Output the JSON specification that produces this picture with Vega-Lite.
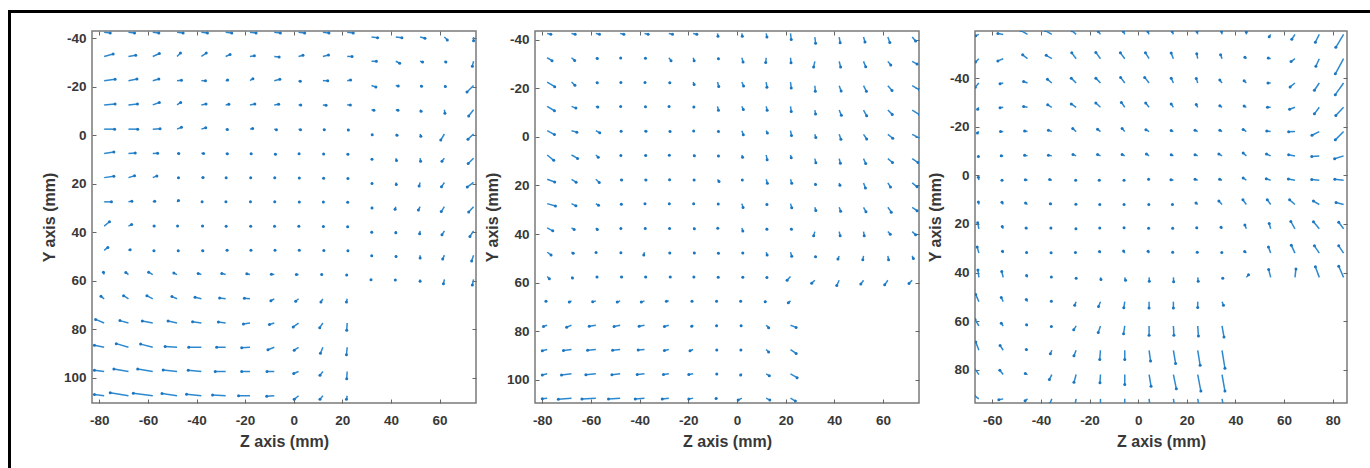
{
"$schema": "https://vega.github.io/schema/vega-lite/v6.json",
"background": "white",
"padding": {"left": 8, "top": 10, "right": 0, "bottom": 0},
"config": {
 "view": {"stroke": "#7a7a7a", "strokeWidth": 1.5},
 "axis": {"labelFont": "Liberation Sans", "labelFontWeight": "bold", "labelFontSize": 13.5, "labelColor": "#383838", "titleFont": "Liberation Sans", "titleFontWeight": "bold", "titleFontSize": 16, "titleColor": "#383838", "domain": false, "grid": false, "tickColor": "#666", "tickSize": -4, "tickWidth": 1, "labelPadding": 10, "titlePadding": 6, "labelExpr": "'' + datum.value"},
 "axisX": {"labelPadding": 14, "titlePadding": 7}
},
"datasets": {
"a": [
{"x":-78,"y":-42.5,"x2":-75.5,"y2":-42.2},{"x":-68,"y":-42.5,"x2":-65.5,"y2":-42.2},{"x":-58,"y":-42.5,"x2":-55.5,"y2":-42.2},{"x":-48,"y":-42.5,"x2":-45.5,"y2":-42.2},{"x":-38,"y":-42.5,"x2":-35.5,"y2":-42.2},{"x":-28,"y":-42.5,"x2":-25.5,"y2":-42.2},{"x":-18,"y":-42.5,"x2":-15.5,"y2":-42.2},{"x":-8,"y":-42.5,"x2":-5.5,"y2":-42.2},{"x":2,"y":-42.5,"x2":4.5,"y2":-42.2},{"x":12,"y":-42.5,"x2":14.5,"y2":-42.2},{"x":22,"y":-42.5,"x2":24.5,"y2":-42.2},{"x":32,"y":-40.5,"x2":34.5,"y2":-40.2},{"x":42,"y":-40.5,"x2":44.5,"y2":-40.2},{"x":52,"y":-40.5,"x2":54,"y2":-40},{"x":62,"y":-40.5,"x2":63.2,"y2":-39.3},{"x":74,"y":-40.5,"x2":74,"y2":-39},
{"x":-78,"y":-32.5,"x2":-74.3,"y2":-33.5},{"x":-68,"y":-32.5,"x2":-65,"y2":-33},{"x":-58,"y":-32.5,"x2":-55.3,"y2":-33.7},{"x":-48,"y":-32.5,"x2":-46.6,"y2":-33.9},{"x":-38,"y":-32.5,"x2":-36,"y2":-33.9},{"x":-28,"y":-32.5,"x2":-26.2,"y2":-33.3},{"x":-18,"y":-32.5,"x2":-16.2,"y2":-32.8},{"x":-8,"y":-32.5,"x2":-6,"y2":-32.3},{"x":2,"y":-32.5,"x2":3.8,"y2":-33},{"x":12,"y":-32.5,"x2":14.3,"y2":-33.1},{"x":22,"y":-32.5,"x2":24,"y2":-32.5},{"x":32,"y":-30.5,"x2":34,"y2":-30.5},{"x":42,"y":-30.5,"x2":43.6,"y2":-29.7},{"x":52,"y":-30.5,"x2":53,"y2":-30.2},{"x":62,"y":-30.5,"x2":62.6,"y2":-30.2},{"x":74,"y":-30.5,"x2":73.5,"y2":-28.5},
{"x":-78,"y":-22.5,"x2":-73.5,"y2":-23.1},{"x":-68,"y":-22.5,"x2":-64.5,"y2":-23.2},{"x":-58,"y":-22.5,"x2":-55.5,"y2":-23.2},{"x":-48,"y":-22.5,"x2":-46.2,"y2":-22.7},{"x":-38,"y":-22.5,"x2":-36.3,"y2":-22.5},{"x":-28,"y":-22.5,"x2":-27.2,"y2":-22.8},{"x":-18,"y":-22.5,"x2":-16.8,"y2":-23.3},{"x":-8,"y":-22.5,"x2":-5.7,"y2":-23.1},{"x":2,"y":-22.5,"x2":2.7,"y2":-22.3},{"x":12,"y":-22.5,"x2":14,"y2":-22.5},{"x":22,"y":-22.5,"x2":23.4,"y2":-22.8},{"x":32,"y":-20.5,"x2":33.8,"y2":-19.9},{"x":42,"y":-20.5,"x2":43,"y2":-20.3},{"x":52,"y":-20.5,"x2":52.6,"y2":-20.2},{"x":62,"y":-20.5,"x2":62.4,"y2":-20.1},{"x":74,"y":-20.5,"x2":71.3,"y2":-17.8},
{"x":-78,"y":-12.5,"x2":-73.5,"y2":-12.9},{"x":-68,"y":-12.5,"x2":-64.3,"y2":-12.9},{"x":-58,"y":-12.5,"x2":-55.3,"y2":-13.5},{"x":-48,"y":-12.5,"x2":-46.5,"y2":-13.5},{"x":-38,"y":-12.5,"x2":-36.1,"y2":-12.9},{"x":-28,"y":-12.5,"x2":-26.7,"y2":-12.8},{"x":-18,"y":-12.5,"x2":-16,"y2":-12.9},{"x":-8,"y":-12.5,"x2":-6.2,"y2":-12.8},{"x":2,"y":-12.5,"x2":2.9,"y2":-12.5},{"x":12,"y":-12.5,"x2":13.3,"y2":-12.4},{"x":22,"y":-12.5,"x2":23.3,"y2":-12.5},{"x":32,"y":-10.5,"x2":33,"y2":-10.3},{"x":42,"y":-10.5,"x2":42.9,"y2":-10.3},{"x":52,"y":-10.5,"x2":52.4,"y2":-9.9},{"x":62,"y":-10.5,"x2":62.2,"y2":-9.1},{"x":74,"y":-10.5,"x2":72,"y2":-7.9},
{"x":-78,"y":-2.5,"x2":-73.7,"y2":-2.5},{"x":-68,"y":-2.5,"x2":-64.2,"y2":-2.5},{"x":-58,"y":-2.5,"x2":-55,"y2":-2.7},{"x":-48,"y":-2.5,"x2":-46.2,"y2":-3.3},{"x":-38,"y":-2.5,"x2":-36.2,"y2":-3.1},{"x":-28,"y":-2.5,"x2":-27.3,"y2":-2.4},{"x":-18,"y":-2.5,"x2":-16.9,"y2":-2.8},{"x":-8,"y":-2.5,"x2":-7.1,"y2":-2.3},{"x":2,"y":-2.5,"x2":2.8,"y2":-2.3},{"x":12,"y":-2.5,"x2":12.6,"y2":-2.3},{"x":22,"y":-2.5,"x2":22.5,"y2":-2.2},{"x":32,"y":-0.5,"x2":32.3,"y2":-0.2},{"x":42,"y":-0.5,"x2":42.5,"y2":0},{"x":52,"y":-0.5,"x2":52.3,"y2":0.4},{"x":62,"y":-0.5,"x2":60.5,"y2":2},{"x":74,"y":-0.5,"x2":71.7,"y2":1.7},
{"x":-78,"y":7.5,"x2":-74,"y2":6.9},{"x":-68,"y":7.5,"x2":-65.2,"y2":7.3},{"x":-58,"y":7.5,"x2":-56,"y2":7.4},{"x":-48,"y":7.5,"x2":-47.3,"y2":7.5},{"x":-38,"y":7.5,"x2":-37.1,"y2":7.5},{"x":-28,"y":7.5,"x2":-27.3,"y2":7.6},{"x":-18,"y":7.5,"x2":-17.5,"y2":7.7},{"x":-8,"y":7.5,"x2":-7.5,"y2":7.9},{"x":2,"y":7.5,"x2":2.2,"y2":7.7},{"x":12,"y":7.5,"x2":12.3,"y2":7.8},{"x":22,"y":7.5,"x2":22.3,"y2":7.9},{"x":32,"y":9.5,"x2":32.2,"y2":9.9},{"x":42,"y":9.5,"x2":42.3,"y2":10.4},{"x":52,"y":9.5,"x2":52.2,"y2":10.7},{"x":62,"y":9.5,"x2":61,"y2":10.7},{"x":74,"y":9.5,"x2":71.8,"y2":11.7},
{"x":-78,"y":17.5,"x2":-74,"y2":16.9},{"x":-68,"y":17.5,"x2":-65.5,"y2":16.7},{"x":-58,"y":17.5,"x2":-56.3,"y2":16.8},{"x":-48,"y":17.5,"x2":-47.4,"y2":17.6},{"x":-38,"y":17.5,"x2":-37.3,"y2":17.5},{"x":-28,"y":17.5,"x2":-27.8,"y2":17.6},{"x":-18,"y":17.5,"x2":-17.7,"y2":17.6},{"x":-8,"y":17.5,"x2":-7.8,"y2":17.6},{"x":2,"y":17.5,"x2":2.3,"y2":17.7},{"x":12,"y":17.5,"x2":12.3,"y2":17.8},{"x":22,"y":17.5,"x2":22.3,"y2":17.9},{"x":32,"y":19.5,"x2":32.2,"y2":19.9},{"x":42,"y":19.5,"x2":42.2,"y2":20.3},{"x":52,"y":19.5,"x2":51.6,"y2":21},{"x":62,"y":19.5,"x2":60.8,"y2":21.3},{"x":74,"y":19.5,"x2":71.4,"y2":21.4},
{"x":-78,"y":27.5,"x2":-75,"y2":27.5},{"x":-68,"y":27.5,"x2":-66.6,"y2":27.2},{"x":-58,"y":27.5,"x2":-57.2,"y2":27.2},{"x":-48,"y":27.5,"x2":-47.4,"y2":26.9},{"x":-38,"y":27.5,"x2":-37.7,"y2":27.5},{"x":-28,"y":27.5,"x2":-27.9,"y2":27.5},{"x":-18,"y":27.5,"x2":-17.8,"y2":27.5},{"x":-8,"y":27.5,"x2":-7.8,"y2":27.5},{"x":2,"y":27.5,"x2":2.3,"y2":27.6},{"x":12,"y":27.5,"x2":12.2,"y2":27.6},{"x":22,"y":27.5,"x2":22.2,"y2":27.7},{"x":32,"y":29.5,"x2":32.2,"y2":30},{"x":42,"y":29.5,"x2":41.7,"y2":30.6},{"x":52,"y":29.5,"x2":51.3,"y2":30.9},{"x":62,"y":29.5,"x2":60.7,"y2":31.5},{"x":74,"y":29.5,"x2":72,"y2":31.7},
{"x":-78,"y":37.5,"x2":-75.8,"y2":35.7},{"x":-68,"y":37.5,"x2":-66.7,"y2":36.8},{"x":-58,"y":37.5,"x2":-57.4,"y2":37.5},{"x":-48,"y":37.5,"x2":-47.8,"y2":37.5},{"x":-38,"y":37.5,"x2":-37.5,"y2":37.5},{"x":-28,"y":37.5,"x2":-27.8,"y2":37.6},{"x":-18,"y":37.5,"x2":-17.7,"y2":37.6},{"x":-8,"y":37.5,"x2":-7.9,"y2":37.6},{"x":2,"y":37.5,"x2":2.1,"y2":37.6},{"x":12,"y":37.5,"x2":12.2,"y2":37.7},{"x":22,"y":37.5,"x2":22.2,"y2":37.8},{"x":32,"y":39.5,"x2":32.1,"y2":40},{"x":42,"y":39.5,"x2":42,"y2":40.3},{"x":52,"y":39.5,"x2":51.8,"y2":40.7},{"x":62,"y":39.5,"x2":61,"y2":41.1},{"x":74,"y":39.5,"x2":72.5,"y2":41.8},
{"x":-78,"y":47.5,"x2":-76.5,"y2":46.3},{"x":-68,"y":47.5,"x2":-67.3,"y2":47.3},{"x":-58,"y":47.5,"x2":-57.5,"y2":47.7},{"x":-48,"y":47.5,"x2":-47.5,"y2":47.7},{"x":-38,"y":47.5,"x2":-37.4,"y2":47.7},{"x":-28,"y":47.5,"x2":-27.4,"y2":47.5},{"x":-18,"y":47.5,"x2":-17.6,"y2":47.5},{"x":-8,"y":47.5,"x2":-7.7,"y2":47.5},{"x":2,"y":47.5,"x2":2.3,"y2":47.5},{"x":12,"y":47.5,"x2":12.4,"y2":47.6},{"x":22,"y":47.5,"x2":22.3,"y2":47.7},{"x":32,"y":49.5,"x2":32.1,"y2":49.7},{"x":42,"y":49.5,"x2":42.1,"y2":50},{"x":52,"y":49.5,"x2":52,"y2":50.7},{"x":62,"y":49.5,"x2":61.3,"y2":51.1},{"x":74,"y":49.5,"x2":73.2,"y2":51.9},
{"x":-78,"y":57.5,"x2":-78.3,"y2":56.5},{"x":-68,"y":57.5,"x2":-69.1,"y2":56.6},{"x":-58,"y":57.5,"x2":-59.7,"y2":56.5},{"x":-48,"y":57.5,"x2":-49.3,"y2":56.9},{"x":-38,"y":57.5,"x2":-39.3,"y2":57.1},{"x":-28,"y":57.5,"x2":-29.6,"y2":57.1},{"x":-18,"y":57.5,"x2":-19.3,"y2":57.2},{"x":-8,"y":57.5,"x2":-9.2,"y2":57.4},{"x":2,"y":57.5,"x2":1.1,"y2":57.5},{"x":12,"y":57.5,"x2":11.5,"y2":57.5},{"x":22,"y":57.5,"x2":21.8,"y2":57.7},{"x":32,"y":59.5,"x2":31.8,"y2":59.6},{"x":42,"y":59.5,"x2":41.8,"y2":59.7},{"x":52,"y":59.5,"x2":52,"y2":60.3},{"x":62,"y":59.5,"x2":61.6,"y2":61.3},{"x":74,"y":59.5,"x2":73.5,"y2":61.8},
{"x":-78,"y":67.5,"x2":-79.3,"y2":66.5},{"x":-68,"y":67.5,"x2":-70,"y2":66.2},{"x":-58,"y":67.5,"x2":-60.4,"y2":66.2},{"x":-48,"y":67.5,"x2":-50.1,"y2":66.6},{"x":-38,"y":67.5,"x2":-40.6,"y2":66.9},{"x":-28,"y":67.5,"x2":-30.5,"y2":67.2},{"x":-18,"y":67.5,"x2":-20.3,"y2":67.3},{"x":-8,"y":67.5,"x2":-9.4,"y2":68.3},{"x":2,"y":67.5,"x2":0.8,"y2":68.5},{"x":12,"y":67.5,"x2":11.2,"y2":68.8},{"x":22,"y":67.5,"x2":21.7,"y2":68.8},
{"x":-78,"y":77.5,"x2":-81.5,"y2":76},{"x":-68,"y":77.5,"x2":-71.5,"y2":76.5},{"x":-58,"y":77.5,"x2":-62.3,"y2":76.7},{"x":-48,"y":77.5,"x2":-51.7,"y2":76.7},{"x":-38,"y":77.5,"x2":-41.6,"y2":77},{"x":-28,"y":77.5,"x2":-31,"y2":77.1},{"x":-18,"y":77.5,"x2":-20.7,"y2":77.9},{"x":-8,"y":77.5,"x2":-10,"y2":78.1},{"x":2,"y":77.5,"x2":-0.2,"y2":79.1},{"x":12,"y":77.5,"x2":10.7,"y2":79.4},{"x":22,"y":77.5,"x2":21.8,"y2":80.5},
{"x":-78,"y":87.5,"x2":-82,"y2":86.7},{"x":-68,"y":87.5,"x2":-73,"y2":86},{"x":-58,"y":87.5,"x2":-63,"y2":86.2},{"x":-48,"y":87.5,"x2":-52.9,"y2":87.2},{"x":-38,"y":87.5,"x2":-43.2,"y2":87.5},{"x":-28,"y":87.5,"x2":-31.7,"y2":87.5},{"x":-18,"y":87.5,"x2":-21.4,"y2":87.7},{"x":-8,"y":87.5,"x2":-10.6,"y2":88.5},{"x":2,"y":87.5,"x2":0.2,"y2":88.7},{"x":12,"y":87.5,"x2":11,"y2":90},{"x":22,"y":87.5,"x2":21.7,"y2":90.6},
{"x":-78,"y":97.5,"x2":-82,"y2":97},{"x":-68,"y":97.5,"x2":-74,"y2":96.5},{"x":-58,"y":97.5,"x2":-64.2,"y2":96.5},{"x":-48,"y":97.5,"x2":-53.7,"y2":96.9},{"x":-38,"y":97.5,"x2":-43.4,"y2":97},{"x":-28,"y":97.5,"x2":-32.3,"y2":97.5},{"x":-18,"y":97.5,"x2":-21.4,"y2":97.5},{"x":-8,"y":97.5,"x2":-11,"y2":97.5},{"x":2,"y":97.5,"x2":0,"y2":98.3},{"x":12,"y":97.5,"x2":10.8,"y2":99.1},{"x":22,"y":97.5,"x2":21.8,"y2":100.5},
{"x":-78,"y":107.5,"x2":-82,"y2":107},{"x":-68,"y":107.5,"x2":-75.5,"y2":106.3},{"x":-58,"y":107.5,"x2":-66,"y2":106.5},{"x":-48,"y":107.5,"x2":-54.2,"y2":106.6},{"x":-38,"y":107.5,"x2":-44.1,"y2":106.9},{"x":-28,"y":107.5,"x2":-33.4,"y2":107.2},{"x":-18,"y":107.5,"x2":-22.7,"y2":107.5},{"x":-8,"y":107.5,"x2":-11.1,"y2":107.7},{"x":2,"y":107.5,"x2":0.2,"y2":109},{"x":12,"y":107.5,"x2":10.8,"y2":109},{"x":22,"y":107.5,"x2":21.7,"y2":109}
],
"b": [
{"x":-78,"y":-42.5,"x2":-76.5,"y2":-42.2},{"x":-68,"y":-42.5,"x2":-66.5,"y2":-42.2},{"x":-58,"y":-42.5,"x2":-56.5,"y2":-42.2},{"x":-48,"y":-42.5,"x2":-46.5,"y2":-42.2},{"x":-38,"y":-42.5,"x2":-36.5,"y2":-42.2},{"x":-28,"y":-42.5,"x2":-26.5,"y2":-42.2},{"x":-18,"y":-42.5,"x2":-16.5,"y2":-42.2},{"x":-8,"y":-42.5,"x2":-7.8,"y2":-41.3},{"x":2,"y":-42.5,"x2":2.2,"y2":-41.3},{"x":12,"y":-42.5,"x2":12.3,"y2":-41},{"x":22,"y":-42.5,"x2":22.3,"y2":-40},{"x":32,"y":-41,"x2":32.3,"y2":-38.5},{"x":42,"y":-41,"x2":42.4,"y2":-38.7},{"x":52,"y":-41,"x2":52.6,"y2":-39},{"x":62,"y":-41,"x2":62.8,"y2":-38.8},{"x":72,"y":-41,"x2":73.4,"y2":-39.4},
{"x":-78,"y":-32.5,"x2":-76,"y2":-31.3},{"x":-68,"y":-32.5,"x2":-66.7,"y2":-31.4},{"x":-58,"y":-32.5,"x2":-57.4,"y2":-32.2},{"x":-48,"y":-32.5,"x2":-47.8,"y2":-32.4},{"x":-38,"y":-32.5,"x2":-37.6,"y2":-32.3},{"x":-28,"y":-32.5,"x2":-27.1,"y2":-31.3},{"x":-18,"y":-32.5,"x2":-17.6,"y2":-31.3},{"x":-8,"y":-32.5,"x2":-7.6,"y2":-32.1},{"x":2,"y":-32.5,"x2":2.5,"y2":-30.7},{"x":12,"y":-32.5,"x2":11.8,"y2":-30.5},{"x":22,"y":-32.5,"x2":22.2,"y2":-30.4},{"x":32,"y":-31,"x2":31.5,"y2":-28.7},{"x":42,"y":-31,"x2":42.6,"y2":-28.7},{"x":52,"y":-31,"x2":52.9,"y2":-28.8},{"x":62,"y":-31,"x2":63.2,"y2":-29.5},{"x":72,"y":-31,"x2":74,"y2":-29.9},
{"x":-78,"y":-22.5,"x2":-74.9,"y2":-20.6},{"x":-68,"y":-22.5,"x2":-66.6,"y2":-21.2},{"x":-58,"y":-22.5,"x2":-57.4,"y2":-22.2},{"x":-48,"y":-22.5,"x2":-47.7,"y2":-22.3},{"x":-38,"y":-22.5,"x2":-37.8,"y2":-22.3},{"x":-28,"y":-22.5,"x2":-27.6,"y2":-22.2},{"x":-18,"y":-22.5,"x2":-17.6,"y2":-21.5},{"x":-8,"y":-22.5,"x2":-7.5,"y2":-20.7},{"x":2,"y":-22.5,"x2":2.7,"y2":-20.9},{"x":12,"y":-22.5,"x2":12.3,"y2":-20.4},{"x":22,"y":-22.5,"x2":22.3,"y2":-20.1},{"x":32,"y":-21,"x2":32.2,"y2":-18.7},{"x":42,"y":-21,"x2":42.8,"y2":-18.8},{"x":52,"y":-21,"x2":53.2,"y2":-18.7},{"x":62,"y":-21,"x2":63.7,"y2":-19},{"x":72,"y":-21,"x2":75,"y2":-19.3},
{"x":-78,"y":-12.5,"x2":-75,"y2":-10.7},{"x":-68,"y":-12.5,"x2":-66.2,"y2":-11.8},{"x":-58,"y":-12.5,"x2":-57.2,"y2":-12.2},{"x":-48,"y":-12.5,"x2":-47.8,"y2":-12.4},{"x":-38,"y":-12.5,"x2":-37.6,"y2":-12.3},{"x":-28,"y":-12.5,"x2":-27.9,"y2":-12.4},{"x":-18,"y":-12.5,"x2":-17.7,"y2":-12.2},{"x":-8,"y":-12.5,"x2":-7.6,"y2":-10.9},{"x":2,"y":-12.5,"x2":2.6,"y2":-11.2},{"x":12,"y":-12.5,"x2":12.4,"y2":-10.9},{"x":22,"y":-12.5,"x2":22.3,"y2":-10.4},{"x":32,"y":-11,"x2":32.3,"y2":-9.4},{"x":42,"y":-11,"x2":42.9,"y2":-8.8},{"x":52,"y":-11,"x2":53.3,"y2":-8.6},{"x":62,"y":-11,"x2":63.8,"y2":-9.2},{"x":72,"y":-11,"x2":75,"y2":-9.1},
{"x":-78,"y":-2.5,"x2":-75,"y2":-0.9},{"x":-68,"y":-2.5,"x2":-65.8,"y2":-1.9},{"x":-58,"y":-2.5,"x2":-56.4,"y2":-1.6},{"x":-48,"y":-2.5,"x2":-47.6,"y2":-2.3},{"x":-38,"y":-2.5,"x2":-37.4,"y2":-2.3},{"x":-28,"y":-2.5,"x2":-27.5,"y2":-2.2},{"x":-18,"y":-2.5,"x2":-17.8,"y2":-2.4},{"x":-8,"y":-2.5,"x2":-7.6,"y2":-2.2},{"x":2,"y":-2.5,"x2":2.6,"y2":-0.8},{"x":12,"y":-2.5,"x2":12.5,"y2":-1.5},{"x":22,"y":-2.5,"x2":22.4,"y2":-0.5},{"x":32,"y":-1,"x2":32.4,"y2":0.3},{"x":42,"y":-1,"x2":42.7,"y2":1},{"x":52,"y":-1,"x2":53.3,"y2":0.9},{"x":62,"y":-1,"x2":64,"y2":0.6},{"x":72,"y":-1,"x2":75.4,"y2":0.8},
{"x":-78,"y":7.5,"x2":-75.3,"y2":9.7},{"x":-68,"y":7.5,"x2":-65.5,"y2":8.9},{"x":-58,"y":7.5,"x2":-57,"y2":8.4},{"x":-48,"y":7.5,"x2":-47.7,"y2":7.7},{"x":-38,"y":7.5,"x2":-37.5,"y2":7.7},{"x":-28,"y":7.5,"x2":-27.8,"y2":7.6},{"x":-18,"y":7.5,"x2":-17.5,"y2":7.8},{"x":-8,"y":7.5,"x2":-7.6,"y2":7.9},{"x":2,"y":7.5,"x2":2.3,"y2":8.4},{"x":12,"y":7.5,"x2":12.4,"y2":9.5},{"x":22,"y":7.5,"x2":22.3,"y2":8.6},{"x":32,"y":9,"x2":32.4,"y2":10.7},{"x":42,"y":9,"x2":42.5,"y2":10.9},{"x":52,"y":9,"x2":52.9,"y2":11},{"x":62,"y":9,"x2":63.9,"y2":10.6},{"x":72,"y":9,"x2":74.4,"y2":10.6},
{"x":-78,"y":17.5,"x2":-74.9,"y2":18.6},{"x":-68,"y":17.5,"x2":-66.1,"y2":18.7},{"x":-58,"y":17.5,"x2":-56.6,"y2":18.8},{"x":-48,"y":17.5,"x2":-47.4,"y2":17.8},{"x":-38,"y":17.5,"x2":-37.4,"y2":17.8},{"x":-28,"y":17.5,"x2":-27.7,"y2":17.7},{"x":-18,"y":17.5,"x2":-17.6,"y2":17.8},{"x":-8,"y":17.5,"x2":-7.4,"y2":18.4},{"x":2,"y":17.5,"x2":2.2,"y2":17.8},{"x":12,"y":17.5,"x2":12.5,"y2":19.1},{"x":22,"y":17.5,"x2":22.5,"y2":19.1},{"x":32,"y":19,"x2":32.3,"y2":19.6},{"x":42,"y":19,"x2":42.3,"y2":19.9},{"x":52,"y":19,"x2":52.8,"y2":21.1},{"x":62,"y":19,"x2":63.1,"y2":20.7},{"x":72,"y":19,"x2":74,"y2":20.6},
{"x":-78,"y":27.5,"x2":-74.6,"y2":28.5},{"x":-68,"y":27.5,"x2":-66.2,"y2":28.4},{"x":-58,"y":27.5,"x2":-56.9,"y2":28.2},{"x":-48,"y":27.5,"x2":-47.5,"y2":27.8},{"x":-38,"y":27.5,"x2":-37.8,"y2":27.6},{"x":-28,"y":27.5,"x2":-27.8,"y2":27.6},{"x":-18,"y":27.5,"x2":-17.8,"y2":27.6},{"x":-8,"y":27.5,"x2":-7.7,"y2":27.7},{"x":2,"y":27.5,"x2":2.5,"y2":29.1},{"x":12,"y":27.5,"x2":12.3,"y2":27.9},{"x":22,"y":27.5,"x2":22.5,"y2":29.2},{"x":32,"y":29,"x2":32.4,"y2":30.3},{"x":42,"y":29,"x2":42.6,"y2":30.6},{"x":52,"y":29,"x2":53,"y2":30.8},{"x":62,"y":29,"x2":63.4,"y2":31},{"x":72,"y":29,"x2":74,"y2":30.4},
{"x":-78,"y":37.5,"x2":-75.7,"y2":38.7},{"x":-68,"y":37.5,"x2":-66.9,"y2":38.1},{"x":-58,"y":37.5,"x2":-57.4,"y2":38.1},{"x":-48,"y":37.5,"x2":-47.7,"y2":37.7},{"x":-38,"y":37.5,"x2":-37.7,"y2":37.7},{"x":-28,"y":37.5,"x2":-27.7,"y2":37.7},{"x":-18,"y":37.5,"x2":-17.5,"y2":37.8},{"x":-8,"y":37.5,"x2":-7.9,"y2":37.6},{"x":2,"y":37.5,"x2":2.4,"y2":38.8},{"x":12,"y":37.5,"x2":12.3,"y2":38},{"x":22,"y":37.5,"x2":22.4,"y2":38},{"x":32,"y":39,"x2":31.5,"y2":40.7},{"x":42,"y":39,"x2":42.4,"y2":40.7},{"x":52,"y":39,"x2":52.3,"y2":40.7},{"x":62,"y":39,"x2":63,"y2":40.1},{"x":72,"y":39,"x2":73.4,"y2":40.3},
{"x":-78,"y":47.5,"x2":-76.4,"y2":48.6},{"x":-68,"y":47.5,"x2":-67.3,"y2":47.9},{"x":-58,"y":47.5,"x2":-57.9,"y2":47.6},{"x":-48,"y":47.5,"x2":-47.7,"y2":47.7},{"x":-38,"y":47.5,"x2":-38.3,"y2":48.6},{"x":-28,"y":47.5,"x2":-27.6,"y2":47.8},{"x":-18,"y":47.5,"x2":-17.5,"y2":47.8},{"x":-8,"y":47.5,"x2":-7.6,"y2":47.9},{"x":2,"y":47.5,"x2":2.4,"y2":47.8},{"x":12,"y":47.5,"x2":12.4,"y2":48.6},{"x":22,"y":47.5,"x2":22.5,"y2":49.1},{"x":32,"y":49,"x2":32.3,"y2":49.4},{"x":42,"y":49,"x2":41.5,"y2":50.3},{"x":52,"y":49,"x2":51.7,"y2":50.6},{"x":62,"y":49,"x2":62.3,"y2":50.6},{"x":72,"y":49,"x2":72.5,"y2":50.1},
{"x":-78,"y":57.5,"x2":-77.1,"y2":58.4},{"x":-68,"y":57.5,"x2":-67.6,"y2":58.1},{"x":-58,"y":57.5,"x2":-57.5,"y2":57.7},{"x":-48,"y":57.5,"x2":-47.4,"y2":57.7},{"x":-38,"y":57.5,"x2":-37.5,"y2":57.7},{"x":-28,"y":57.5,"x2":-27.4,"y2":57.7},{"x":-18,"y":57.5,"x2":-17.7,"y2":57.7},{"x":-8,"y":57.5,"x2":-7.7,"y2":57.8},{"x":2,"y":57.5,"x2":2.4,"y2":57.8},{"x":12,"y":57.5,"x2":12.3,"y2":57.9},{"x":22,"y":57.5,"x2":20.6,"y2":59},{"x":32,"y":59,"x2":30.7,"y2":60.2},{"x":42,"y":59,"x2":41,"y2":61.2},{"x":52,"y":59,"x2":50.9,"y2":60.6},{"x":62,"y":59,"x2":60.7,"y2":60.9},{"x":72,"y":59,"x2":70.7,"y2":60.3},
{"x":-78,"y":67.5,"x2":-78.5,"y2":67.7},{"x":-68,"y":67.5,"x2":-68.9,"y2":68},{"x":-58,"y":67.5,"x2":-59.3,"y2":67.9},{"x":-48,"y":67.5,"x2":-49.2,"y2":68},{"x":-38,"y":67.5,"x2":-39.3,"y2":68},{"x":-28,"y":67.5,"x2":-29,"y2":67.7},{"x":-18,"y":67.5,"x2":-18.5,"y2":67.7},{"x":-8,"y":67.5,"x2":-8.4,"y2":67.7},{"x":2,"y":67.5,"x2":1.5,"y2":67.7},{"x":12,"y":67.5,"x2":11.6,"y2":67.9},{"x":22,"y":67.5,"x2":21.1,"y2":68.3},
{"x":-78,"y":77.5,"x2":-79.5,"y2":78},{"x":-68,"y":77.5,"x2":-70,"y2":78.3},{"x":-58,"y":77.5,"x2":-60.7,"y2":77.9},{"x":-48,"y":77.5,"x2":-50.5,"y2":78},{"x":-38,"y":77.5,"x2":-40.2,"y2":77.9},{"x":-28,"y":77.5,"x2":-29.8,"y2":78},{"x":-18,"y":77.5,"x2":-18.6,"y2":77.9},{"x":-8,"y":77.5,"x2":-8.4,"y2":77.7},{"x":2,"y":77.5,"x2":1.7,"y2":77.7},{"x":12,"y":77.5,"x2":13,"y2":78.5},{"x":22,"y":77.5,"x2":24.3,"y2":78.4},
{"x":-78,"y":87.5,"x2":-80,"y2":88},{"x":-68,"y":87.5,"x2":-71.3,"y2":87.9},{"x":-58,"y":87.5,"x2":-61.4,"y2":87.8},{"x":-48,"y":87.5,"x2":-51.1,"y2":87.8},{"x":-38,"y":87.5,"x2":-40.6,"y2":87.7},{"x":-28,"y":87.5,"x2":-29.8,"y2":87.9},{"x":-18,"y":87.5,"x2":-19.3,"y2":88},{"x":-8,"y":87.5,"x2":-8.3,"y2":87.7},{"x":2,"y":87.5,"x2":1.6,"y2":87.7},{"x":12,"y":87.5,"x2":13,"y2":88.5},{"x":22,"y":87.5,"x2":24.3,"y2":89.1},
{"x":-78,"y":97.5,"x2":-80,"y2":98},{"x":-68,"y":97.5,"x2":-72.1,"y2":98},{"x":-58,"y":97.5,"x2":-62.1,"y2":97.9},{"x":-48,"y":97.5,"x2":-51.4,"y2":97.9},{"x":-38,"y":97.5,"x2":-41,"y2":97.8},{"x":-28,"y":97.5,"x2":-30.2,"y2":97.8},{"x":-18,"y":97.5,"x2":-19.8,"y2":97.8},{"x":-8,"y":97.5,"x2":-8.3,"y2":97.6},{"x":2,"y":97.5,"x2":1.5,"y2":98},{"x":12,"y":97.5,"x2":13.3,"y2":98.3},{"x":22,"y":97.5,"x2":24.7,"y2":99.1},
{"x":-78,"y":107.5,"x2":-80,"y2":107.8},{"x":-68,"y":107.5,"x2":-73.4,"y2":108},{"x":-58,"y":107.5,"x2":-63.7,"y2":107.9},{"x":-48,"y":107.5,"x2":-52.8,"y2":107.9},{"x":-38,"y":107.5,"x2":-41.8,"y2":107.9},{"x":-28,"y":107.5,"x2":-30.7,"y2":107.9},{"x":-18,"y":107.5,"x2":-19.8,"y2":107.9},{"x":-8,"y":107.5,"x2":-8.6,"y2":107.6},{"x":2,"y":107.5,"x2":0.5,"y2":108.3},{"x":12,"y":107.5,"x2":13.5,"y2":108.3},{"x":22,"y":107.5,"x2":24,"y2":108.7}
],
"c": [
{"x":-65.5,"y":-58,"x2":-66.8,"y2":-57.4},{"x":-55.5,"y":-58,"x2":-57.7,"y2":-58.4},{"x":-45.5,"y":-58,"x2":-48.2,"y2":-59.6},{"x":-35.5,"y":-58,"x2":-38.2,"y2":-59.6},{"x":-25.5,"y":-58,"x2":-27.2,"y2":-59.5},{"x":-15.5,"y":-58,"x2":-16.4,"y2":-59.2},{"x":-5.5,"y":-58,"x2":-6.1,"y2":-59.2},{"x":4.5,"y":-58,"x2":4,"y2":-59.2},{"x":14.5,"y":-58,"x2":14,"y2":-59.2},{"x":24.5,"y":-58,"x2":24.2,"y2":-59.2},{"x":34.5,"y":-58,"x2":34.3,"y2":-59.2},{"x":44.5,"y":-58,"x2":44.5,"y2":-59},{"x":54.5,"y":-58,"x2":53.9,"y2":-57},{"x":64.5,"y":-58,"x2":63.2,"y2":-56},{"x":74.5,"y":-58,"x2":72.9,"y2":-54.8},{"x":84.5,"y":-58,"x2":81.3,"y2":-52.7},
{"x":-65.5,"y":-48,"x2":-66.9,"y2":-46.6},{"x":-55.5,"y":-48,"x2":-57.7,"y2":-47.1},{"x":-45.5,"y":-48,"x2":-47.5,"y2":-49.6},{"x":-35.5,"y":-48,"x2":-37.8,"y2":-49.4},{"x":-25.5,"y":-48,"x2":-27.3,"y2":-50.4},{"x":-15.5,"y":-48,"x2":-17.4,"y2":-50.6},{"x":-5.5,"y":-48,"x2":-7.3,"y2":-50.4},{"x":4.5,"y":-48,"x2":3,"y2":-50.4},{"x":14.5,"y":-48,"x2":13.6,"y2":-50.3},{"x":24.5,"y":-48,"x2":24.1,"y2":-50},{"x":34.5,"y":-48,"x2":33.9,"y2":-49.6},{"x":44.5,"y":-48,"x2":43.9,"y2":-48.6},{"x":54.5,"y":-48,"x2":53.5,"y2":-48.3},{"x":64.5,"y":-48,"x2":62.9,"y2":-46.8},{"x":74.5,"y":-48,"x2":73.1,"y2":-44.9},{"x":84.5,"y":-48,"x2":81.1,"y2":-41.8},
{"x":-65.5,"y":-38,"x2":-67,"y2":-36.3},{"x":-55.5,"y":-38,"x2":-56.8,"y2":-37.7},{"x":-45.5,"y":-38,"x2":-47.1,"y2":-38.6},{"x":-35.5,"y":-38,"x2":-37.3,"y2":-39.5},{"x":-25.5,"y":-38,"x2":-27.5,"y2":-40},{"x":-15.5,"y":-38,"x2":-17.4,"y2":-40},{"x":-5.5,"y":-38,"x2":-7.2,"y2":-40.3},{"x":4.5,"y":-38,"x2":2.7,"y2":-40.3},{"x":14.5,"y":-38,"x2":13.6,"y2":-40},{"x":24.5,"y":-38,"x2":23.9,"y2":-39.9},{"x":34.5,"y":-38,"x2":33.6,"y2":-39.2},{"x":44.5,"y":-38,"x2":43.6,"y2":-38.9},{"x":54.5,"y":-38,"x2":53.4,"y2":-38},{"x":64.5,"y":-38,"x2":62.5,"y2":-36.4},{"x":74.5,"y":-38,"x2":72.5,"y2":-35},{"x":84.5,"y":-38,"x2":81.1,"y2":-33.2},
{"x":-65.5,"y":-28,"x2":-66,"y2":-27.2},{"x":-55.5,"y":-28,"x2":-56.8,"y2":-27.8},{"x":-45.5,"y":-28,"x2":-47.1,"y2":-28.3},{"x":-35.5,"y":-28,"x2":-37.2,"y2":-29},{"x":-25.5,"y":-28,"x2":-27.5,"y2":-29.4},{"x":-15.5,"y":-28,"x2":-17.4,"y2":-29.8},{"x":-5.5,"y":-28,"x2":-6.9,"y2":-30},{"x":4.5,"y":-28,"x2":3.1,"y2":-29.8},{"x":14.5,"y":-28,"x2":13.6,"y2":-29.4},{"x":24.5,"y":-28,"x2":23.9,"y2":-29.1},{"x":34.5,"y":-28,"x2":33.6,"y2":-28.6},{"x":44.5,"y":-28,"x2":43.6,"y2":-28.5},{"x":54.5,"y":-28,"x2":53.2,"y2":-28},{"x":64.5,"y":-28,"x2":62.3,"y2":-27.2},{"x":74.5,"y":-28,"x2":72.5,"y2":-25.3},{"x":84.5,"y":-28,"x2":81.3,"y2":-24.6},
{"x":-65.5,"y":-18,"x2":-66.1,"y2":-17.4},{"x":-55.5,"y":-18,"x2":-56.6,"y2":-18},{"x":-45.5,"y":-18,"x2":-46.7,"y2":-18.2},{"x":-35.5,"y":-18,"x2":-36.9,"y2":-18.6},{"x":-25.5,"y":-18,"x2":-26.9,"y2":-19.3},{"x":-15.5,"y":-18,"x2":-16.7,"y2":-19},{"x":-5.5,"y":-18,"x2":-6.6,"y2":-19.3},{"x":4.5,"y":-18,"x2":3.2,"y2":-18.8},{"x":14.5,"y":-18,"x2":13.6,"y2":-18.4},{"x":24.5,"y":-18,"x2":23.4,"y2":-18.6},{"x":34.5,"y":-18,"x2":33.6,"y2":-18.6},{"x":44.5,"y":-18,"x2":43.2,"y2":-18.9},{"x":54.5,"y":-18,"x2":52.9,"y2":-18.2},{"x":64.5,"y":-18,"x2":61.9,"y2":-17.9},{"x":74.5,"y":-18,"x2":71.5,"y2":-16.5},{"x":84.5,"y":-18,"x2":81.1,"y2":-14.6},
{"x":-65.5,"y":-8,"x2":-65.7,"y2":-7.8},{"x":-55.5,"y":-8,"x2":-56.3,"y2":-8.1},{"x":-45.5,"y":-8,"x2":-46.7,"y2":-8.3},{"x":-35.5,"y":-8,"x2":-36.9,"y2":-8.3},{"x":-25.5,"y":-8,"x2":-26.8,"y2":-8.6},{"x":-15.5,"y":-8,"x2":-16.7,"y2":-8.6},{"x":-5.5,"y":-8,"x2":-6.6,"y2":-8.6},{"x":4.5,"y":-8,"x2":3.4,"y2":-8.8},{"x":14.5,"y":-8,"x2":13.6,"y2":-8.5},{"x":24.5,"y":-8,"x2":23.4,"y2":-8.5},{"x":34.5,"y":-8,"x2":33.2,"y2":-8.8},{"x":44.5,"y":-8,"x2":43.2,"y2":-9.2},{"x":54.5,"y":-8,"x2":52.8,"y2":-8.8},{"x":64.5,"y":-8,"x2":61.9,"y2":-8.5},{"x":74.5,"y":-8,"x2":71.4,"y2":-7.8},{"x":84.5,"y":-8,"x2":80.8,"y2":-6.8},
{"x":-65.5,"y":2,"x2":-65.7,"y2":0.8},{"x":-55.5,"y":2,"x2":-56,"y2":2},{"x":-45.5,"y":2,"x2":-46.4,"y2":1.8},{"x":-35.5,"y":2,"x2":-36.4,"y2":1.7},{"x":-25.5,"y":2,"x2":-25.7,"y2":2},{"x":-15.5,"y":2,"x2":-16,"y2":2},{"x":-5.5,"y":2,"x2":-5.8,"y2":2},{"x":4.5,"y":2,"x2":4.3,"y2":1.6},{"x":14.5,"y":2,"x2":13.5,"y2":1.8},{"x":24.5,"y":2,"x2":23.4,"y2":1.6},{"x":34.5,"y":2,"x2":33.5,"y2":1.6},{"x":44.5,"y":2,"x2":43.2,"y2":1.1},{"x":54.5,"y":2,"x2":52.7,"y2":1.4},{"x":64.5,"y":2,"x2":61.8,"y2":1.5},{"x":74.5,"y":2,"x2":71.4,"y2":1.7},{"x":84.5,"y":2,"x2":80.9,"y2":1.6},
{"x":-65.5,"y":12,"x2":-65.7,"y2":11},{"x":-55.5,"y":12,"x2":-56,"y2":11.1},{"x":-45.5,"y":12,"x2":-46.3,"y2":11.4},{"x":-35.5,"y":12,"x2":-36.1,"y2":11.7},{"x":-25.5,"y":12,"x2":-25.6,"y2":11.9},{"x":-15.5,"y":12,"x2":-15.8,"y2":12},{"x":-5.5,"y":12,"x2":-5.8,"y2":12},{"x":4.5,"y":12,"x2":4.4,"y2":12},{"x":14.5,"y":12,"x2":14.1,"y2":12},{"x":24.5,"y":12,"x2":23.8,"y2":11.4},{"x":34.5,"y":12,"x2":33.2,"y2":10.6},{"x":44.5,"y":12,"x2":43.1,"y2":10.1},{"x":54.5,"y":12,"x2":53.1,"y2":10},{"x":64.5,"y":12,"x2":62.3,"y2":10.1},{"x":74.5,"y":12,"x2":72.1,"y2":10.6},{"x":84.5,"y":12,"x2":81.4,"y2":11.2},
{"x":-65.5,"y":22,"x2":-66,"y2":19.5},{"x":-55.5,"y":22,"x2":-55.9,"y2":21.1},{"x":-45.5,"y":22,"x2":-46.1,"y2":21.7},{"x":-35.5,"y":22,"x2":-35.9,"y2":21.7},{"x":-25.5,"y":22,"x2":-25.6,"y2":22},{"x":-15.5,"y":22,"x2":-15.8,"y2":21.7},{"x":-5.5,"y":22,"x2":-5.8,"y2":21.6},{"x":4.5,"y":22,"x2":4.3,"y2":21.8},{"x":14.5,"y":22,"x2":14.2,"y2":21.8},{"x":24.5,"y":22,"x2":24.1,"y2":21.6},{"x":34.5,"y":22,"x2":34.1,"y2":21.4},{"x":44.5,"y":22,"x2":43.9,"y2":20.4},{"x":54.5,"y":22,"x2":53.9,"y2":19.8},{"x":64.5,"y":22,"x2":62.8,"y2":19},{"x":74.5,"y":22,"x2":72.1,"y2":19.1},{"x":84.5,"y":22,"x2":82.5,"y2":19.3},
{"x":-65.5,"y":32,"x2":-66.2,"y2":29.5},{"x":-55.5,"y":32,"x2":-55.8,"y2":31.2},{"x":-45.5,"y":32,"x2":-45.9,"y2":31.8},{"x":-35.5,"y":32,"x2":-35.8,"y2":31.9},{"x":-25.5,"y":32,"x2":-25.8,"y2":31.8},{"x":-15.5,"y":32,"x2":-15.9,"y2":31.3},{"x":-5.5,"y":32,"x2":-6,"y2":31.1},{"x":4.5,"y":32,"x2":4.1,"y2":31.2},{"x":14.5,"y":32,"x2":14.2,"y2":31.7},{"x":24.5,"y":32,"x2":24.3,"y2":31.7},{"x":34.5,"y":32,"x2":34.4,"y2":31.8},{"x":44.5,"y":32,"x2":43.8,"y2":31.3},{"x":54.5,"y":32,"x2":53.6,"y2":29.5},{"x":64.5,"y":32,"x2":63,"y2":28.8},{"x":74.5,"y":32,"x2":72.5,"y2":29},{"x":84.5,"y":32,"x2":82.5,"y2":29},
{"x":-65.5,"y":42,"x2":-65.9,"y2":39},{"x":-55.5,"y":42,"x2":-56.1,"y2":39.6},{"x":-45.5,"y":42,"x2":-45.9,"y2":41.2},{"x":-35.5,"y":42,"x2":-35.7,"y2":41.8},{"x":-25.5,"y":42,"x2":-25.5,"y2":42.4},{"x":-15.5,"y":42,"x2":-15.3,"y2":42.9},{"x":-5.5,"y":42,"x2":-5.2,"y2":43.2},{"x":4.5,"y":42,"x2":4.6,"y2":43.6},{"x":14.5,"y":42,"x2":14.6,"y2":43.8},{"x":24.5,"y":42,"x2":24.7,"y2":43.6},{"x":34.5,"y":42,"x2":34.8,"y2":42.4},{"x":44.5,"y":42,"x2":45.4,"y2":40.9},{"x":54.5,"y":42,"x2":53.7,"y2":38.8},{"x":64.5,"y":42,"x2":64.9,"y2":38.5},{"x":74.5,"y":42,"x2":72.9,"y2":37.6},{"x":84.5,"y":42,"x2":82.5,"y2":37.4},
{"x":-65.5,"y":52,"x2":-66.8,"y2":49},{"x":-55.5,"y":52,"x2":-56.3,"y2":50.3},{"x":-45.5,"y":52,"x2":-46,"y2":51.1},{"x":-35.5,"y":52,"x2":-35.7,"y2":51.8},{"x":-25.5,"y":52,"x2":-26.1,"y2":53.5},{"x":-15.5,"y":52,"x2":-16.3,"y2":54},{"x":-5.5,"y":52,"x2":-5.9,"y2":54.5},{"x":4.5,"y":52,"x2":4.5,"y2":54.6},{"x":14.5,"y":52,"x2":14.5,"y2":54.6},{"x":24.5,"y":52,"x2":24.5,"y2":54.4},{"x":34.5,"y":52,"x2":35.1,"y2":53.5},
{"x":-65.5,"y":62,"x2":-67.1,"y2":59.3},{"x":-55.5,"y":62,"x2":-56.3,"y2":60.9},{"x":-45.5,"y":62,"x2":-45.9,"y2":61.5},{"x":-35.5,"y":62,"x2":-35.7,"y2":62.2},{"x":-25.5,"y":62,"x2":-26.5,"y2":63.6},{"x":-15.5,"y":62,"x2":-16.4,"y2":64.7},{"x":-5.5,"y":62,"x2":-6,"y2":65.2},{"x":4.5,"y":62,"x2":4.5,"y2":65.8},{"x":14.5,"y":62,"x2":14.7,"y2":65.8},{"x":24.5,"y":62,"x2":24.8,"y2":66.1},{"x":34.5,"y":62,"x2":35.3,"y2":66.5},
{"x":-65.5,"y":72,"x2":-66.8,"y2":68.6},{"x":-55.5,"y":72,"x2":-56.8,"y2":70},{"x":-45.5,"y":72,"x2":-46,"y2":71.7},{"x":-35.5,"y":72,"x2":-36.1,"y2":73.4},{"x":-25.5,"y":72,"x2":-26.4,"y2":74.3},{"x":-15.5,"y":72,"x2":-15.8,"y2":75.8},{"x":-5.5,"y":72,"x2":-5.5,"y2":75.8},{"x":4.5,"y":72,"x2":5.1,"y2":76.4},{"x":14.5,"y":72,"x2":15.4,"y2":77.4},{"x":24.5,"y":72,"x2":25.5,"y2":78.2},{"x":34.5,"y":72,"x2":35.7,"y2":79.4},
{"x":-65.5,"y":82,"x2":-67.9,"y2":78.6},{"x":-55.5,"y":82,"x2":-56.9,"y2":80.2},{"x":-45.5,"y":82,"x2":-46.4,"y2":81.6},{"x":-35.5,"y":82,"x2":-36.5,"y2":84},{"x":-25.5,"y":82,"x2":-26.4,"y2":85.2},{"x":-15.5,"y":82,"x2":-15.7,"y2":85.4},{"x":-5.5,"y":82,"x2":-5.5,"y2":86.1},{"x":4.5,"y":82,"x2":5.3,"y2":86.8},{"x":14.5,"y":82,"x2":15.7,"y2":87.8},{"x":24.5,"y":82,"x2":25.8,"y2":88.8},{"x":34.5,"y":82,"x2":35.7,"y2":88.8},
{"x":-65.5,"y":92,"x2":-67.5,"y2":90.5},{"x":-55.5,"y":92,"x2":-57.3,"y2":92.4},{"x":-45.5,"y":92,"x2":-46.5,"y2":92.8},{"x":-35.5,"y":92,"x2":-36.3,"y2":94},{"x":-25.5,"y":92,"x2":-26,"y2":94.5},{"x":-15.5,"y":92,"x2":-15.5,"y2":94.5},{"x":-5.5,"y":92,"x2":-5.5,"y2":94.5},{"x":4.5,"y":92,"x2":4.8,"y2":94.5},{"x":14.5,"y":92,"x2":14.9,"y2":94.5},{"x":24.5,"y":92,"x2":25,"y2":94.5},{"x":34.5,"y":92,"x2":35,"y2":94.5}
]
},
"hconcat": [
 {"width": 3, "height": 458, "view": {"fill": "#000000", "stroke": null}, "data": {"values": []}, "mark": "point", "encoding": {}},
 {"vconcat": [
   {"width": 1359, "height": 3, "view": {"fill": "#000000", "stroke": null}, "data": {"values": []}, "mark": "point", "encoding": {}},
   {"hconcat": [
     {"width": 24, "height": 10, "view": {"stroke": null}, "data": {"values": []}, "mark": "point", "encoding": {}},
     {"width": 384, "height": 372, "data": {"name": "a"},
      "layer": [
       {"mark": {"type": "rule", "color": "#2d89cf", "strokeWidth": 1.5, "clip": true},
        "encoding": {
         "x": {"field": "x", "type": "quantitative", "scale": {"domain": [-83, 75], "nice": false, "zero": false}, "axis": {"orient": "bottom", "title": "Z axis (mm)", "values": [-80,-60,-40,-20,0,20,40,60]}},
         "y": {"field": "y", "type": "quantitative", "scale": {"domain": [-43, 110.5], "nice": false, "zero": false, "reverse": true}, "axis": {"orient": "left", "title": "Y axis (mm)", "values": [-40,-20,0,20,40,60,80,100]}},
         "x2": {"field": "x2"}, "y2": {"field": "y2"}}},
       {"mark": {"type": "point", "shape": "circle", "filled": true, "size": 9, "color": "#1c76bf", "opacity": 1, "clip": true},
        "encoding": {
         "x": {"field": "x2", "type": "quantitative", "scale": {"domain": [-83, 75], "nice": false, "zero": false}, "axis": {"orient": "top", "title": null, "labels": false, "values": [-80,-60,-40,-20,0,20,40,60]}},
         "y": {"field": "y2", "type": "quantitative", "scale": {"domain": [-43, 110.5], "nice": false, "zero": false, "reverse": true}, "axis": {"orient": "right", "title": null, "labels": false, "values": [-40,-20,0,20,40,60,80,100]}}}}
      ],
      "resolve": {"axis": {"x": "independent", "y": "independent"}}},
     {"width": 384, "height": 372, "data": {"name": "b"},
      "layer": [
       {"mark": {"type": "rule", "color": "#2d89cf", "strokeWidth": 1.5, "clip": true},
        "encoding": {
         "x": {"field": "x", "type": "quantitative", "scale": {"domain": [-83, 74.8], "nice": false, "zero": false}, "axis": {"orient": "bottom", "title": "Z axis (mm)", "values": [-80,-60,-40,-20,0,20,40,60]}},
         "y": {"field": "y", "type": "quantitative", "scale": {"domain": [-43.5, 109.5], "nice": false, "zero": false, "reverse": true}, "axis": {"orient": "left", "title": "Y axis (mm)", "values": [-40,-20,0,20,40,60,80,100]}},
         "x2": {"field": "x2"}, "y2": {"field": "y2"}}},
       {"mark": {"type": "point", "shape": "circle", "filled": true, "size": 9, "color": "#1c76bf", "opacity": 1, "clip": true},
        "encoding": {
         "x": {"field": "x2", "type": "quantitative", "scale": {"domain": [-83, 74.8], "nice": false, "zero": false}, "axis": {"orient": "top", "title": null, "labels": false, "values": [-80,-60,-40,-20,0,20,40,60]}},
         "y": {"field": "y2", "type": "quantitative", "scale": {"domain": [-43.5, 109.5], "nice": false, "zero": false, "reverse": true}, "axis": {"orient": "right", "title": null, "labels": false, "values": [-40,-20,0,20,40,60,80,100]}}}}
      ],
      "resolve": {"axis": {"x": "independent", "y": "independent"}}},
     {"width": 372, "height": 372, "data": {"name": "c"},
      "layer": [
       {"mark": {"type": "rule", "color": "#2d89cf", "strokeWidth": 1.5, "clip": true},
        "encoding": {
         "x": {"field": "x", "type": "quantitative", "scale": {"domain": [-67.1, 85.9], "nice": false, "zero": false}, "axis": {"orient": "bottom", "title": "Z axis (mm)", "values": [-60,-40,-20,0,20,40,60,80]}},
         "y": {"field": "y", "type": "quantitative", "scale": {"domain": [-59.4, 93.7], "nice": false, "zero": false, "reverse": true}, "axis": {"orient": "left", "title": "Y axis (mm)", "values": [-40,-20,0,20,40,60,80]}},
         "x2": {"field": "x2"}, "y2": {"field": "y2"}}},
       {"mark": {"type": "point", "shape": "circle", "filled": true, "size": 9, "color": "#1c76bf", "opacity": 1, "clip": true},
        "encoding": {
         "x": {"field": "x2", "type": "quantitative", "scale": {"domain": [-67.1, 85.9], "nice": false, "zero": false}, "axis": {"orient": "top", "title": null, "labels": false, "values": [-60,-40,-20,0,20,40,60,80]}},
         "y": {"field": "y2", "type": "quantitative", "scale": {"domain": [-59.4, 93.7], "nice": false, "zero": false, "reverse": true}, "axis": {"orient": "right", "title": null, "labels": false, "values": [-40,-20,0,20,40,60,80]}}}}
      ],
      "resolve": {"axis": {"x": "independent", "y": "independent"}}}
   ], "spacing": 5}
 ], "spacing": 16}
], "spacing": 0
}
